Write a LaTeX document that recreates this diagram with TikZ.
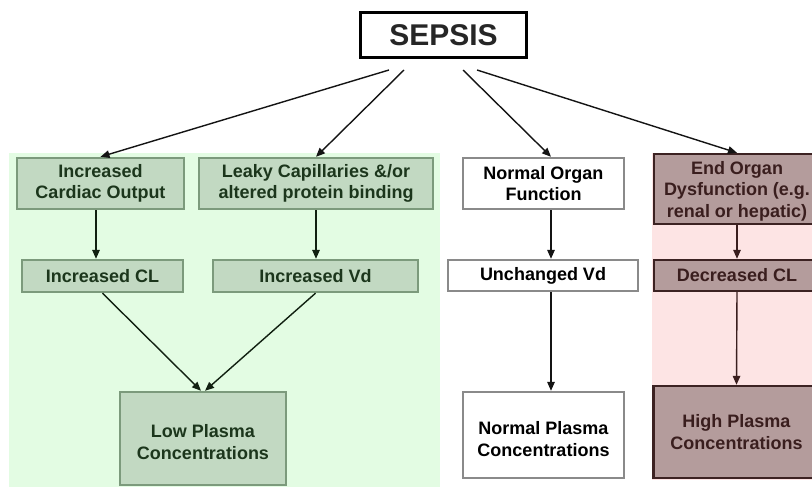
\documentclass[tikz,border=0pt]{standalone}
\usepackage{fontspec}
\setmainfont{Liberation Sans}
\usetikzlibrary{arrows.meta}
\definecolor{gbg}{HTML}{E3FCE3}
\definecolor{gfill}{HTML}{C2D9C2}
\definecolor{gline}{HTML}{7C9A7C}
\definecolor{gtext}{HTML}{1C361C}
\definecolor{pbg}{HTML}{FDE4E4}
\definecolor{bfill}{HTML}{B49C9C}
\definecolor{bline}{HTML}{3C2222}
\definecolor{btext}{HTML}{3A1E1E}
\definecolor{wline}{HTML}{8A8A8A}
\newcommand{\lowstrut}{\rule{0pt}{21pt}}
\begin{document}
\begin{tikzpicture}[x=1pt,y=-1pt,
  box/.style={rectangle,inner sep=0pt,align=center,line width=2.4pt,
    font={\fontsize{18}{21.5}\selectfont\bfseries}},
  gbox/.style={box,draw=gline,fill=gfill,text=gtext},
  wbox/.style={box,draw=wline,fill=white,text=black},
  bbox/.style={box,draw=bline,fill=bfill,text=btext},
  plasma/.style={font={\fontsize{18}{22}\selectfont\bfseries}},
  arr/.style={draw=black!92,line width=1.4pt,-{Triangle[length=9pt,width=7.5pt]}},
  garr/.style={arr,draw=gtext!60!black,-{Triangle[length=9pt,width=7.5pt,fill=gtext!60!black]}},
  barr/.style={arr,draw=btext,-{Triangle[length=9pt,width=7.5pt,fill=btext]}}
]
\clip (0,0) rectangle (812,487);
\fill[white] (0,0) rectangle (812,487);
% backgrounds
\fill[gbg] (9,153) rectangle (440,487);
\fill[pbg] (652,153) rectangle (812,480);

% nodes
\node[box,draw=black,line width=3pt,fill=white,minimum width=166pt,minimum height=45pt,
  font={\fontsize{30}{34}\selectfont\bfseries},text=black!85] (sepsis) at (443.5,35) {SEPSIS};

\node[gbox,minimum width=167pt,minimum height=51pt] (cardiac) at (100.5,183.5) {Increased\\Cardiac Output};
\node[gbox,minimum width=234pt,minimum height=51pt] (leaky) at (316,183.5) {Leaky Capillaries \&/or\\altered protein binding};
\node[wbox,minimum width=161pt,minimum height=51pt] (normal) at (543.5,183.5) {Normal Organ\\Function};
\node[bbox,minimum width=166pt,minimum height=70pt] (endorg) at (737,189) {\rule{0pt}{17pt}End Organ\\Dysfunction (e.g.\\renal or hepatic)};

\node[gbox,minimum width=161pt,minimum height=32pt] (cl) at (102.5,276) {Increased CL};
\node[gbox,minimum width=205pt,minimum height=32pt] (vd) at (315.5,276) {Increased Vd};
\node[wbox,minimum width=190pt,minimum height=31pt] (unch) at (543,275.5) {Unchanged Vd};
\node[bbox,minimum width=166pt,minimum height=31pt] (decl) at (737,275.5) {Decreased CL};

\node[gbox,plasma,minimum width=166pt,minimum height=93pt] (low) at (203,438.5) {\lowstrut Low Plasma\\Concentrations};
\node[wbox,plasma,minimum width=161pt,minimum height=86pt] (nplasma) at (543.5,435) {\lowstrut Normal Plasma\\Concentrations};
\node[bbox,plasma,minimum width=166pt,minimum height=92pt] (high) at (736.5,432) {High Plasma\\Concentrations};

% arrow columns and start points
\coordinate (col1) at (96,0);
\coordinate (ncol) at (551,0);
\coordinate (s1) at (389,70);
\coordinate (s2) at (404,70);
\coordinate (s3) at (463,70);
\coordinate (s4) at (477,70);

% connectors
\draw[arr] (s1) -- (cardiac.north);
\draw[arr] (s2) -- (leaky.north);
\draw[arr] (s3) -- (normal.north -| ncol);
\draw[arr] (s4) -- (endorg.north);

\draw[garr] (cardiac.south -| col1) -- (cl.north -| col1);
\draw[garr] (leaky.south) -- (vd.north -| leaky.south);
\draw[garr] (cl.south) -- ([xshift=-2pt]low.north);
\draw[garr] (vd.south) -- ([xshift=2pt]low.north);

\draw[arr] (normal.south -| ncol) -- (unch.north -| ncol);
\draw[arr] (unch.south -| ncol) -- (nplasma.north -| ncol);

\draw[barr] (endorg.south) -- (decl.north);
\draw[barr] (decl.south) -- (high.north);
\end{tikzpicture}
\end{document}
